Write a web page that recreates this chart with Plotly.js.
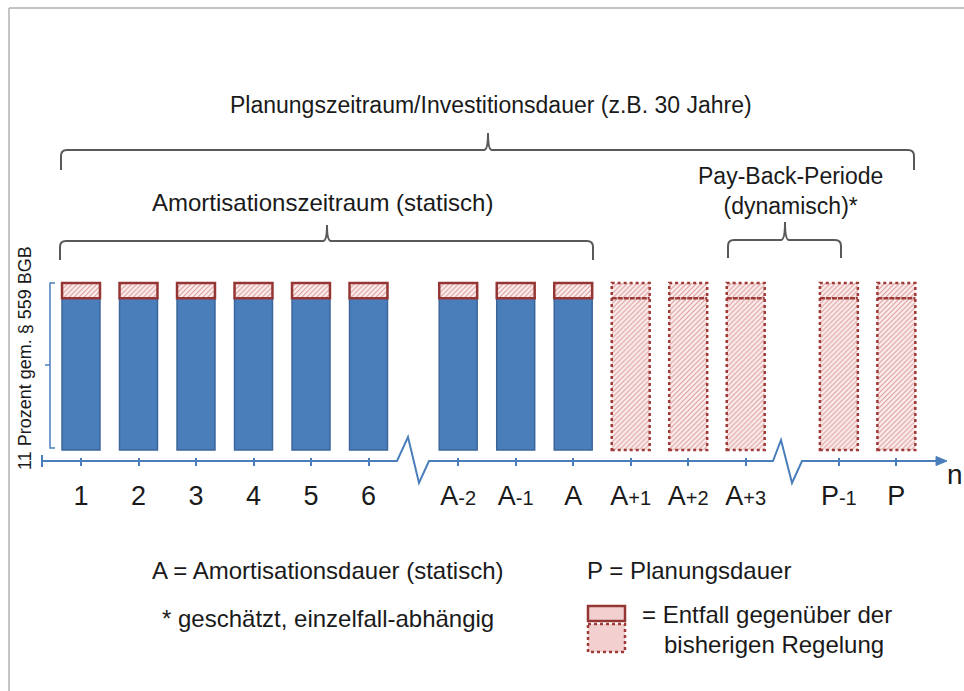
<!DOCTYPE html>
<html>
<head>
<meta charset="utf-8">
<script src="https://cdn.plot.ly/plotly-3.0.1.min.js"></script>
<style>html,body{margin:0;padding:0;background:#fff}#chart{width:964px;height:691px}</style>
</head>
<body>
<div id="chart"></div>
<script>
// ---- data ----
const labels = ['1','2','3','4','5','6','A-2','A-1','A','A+1','A+2','A+3','P-1','P'];
const segment = [0,0,0,0,0,0,1,1,1,1,1,1,2,2];          // axis segment (between breaks)
const remainingShare = [10,10,10,10,10,10,10,10,10,10,10,10,10,10]; // Prozent, verbleibend
const droppedShare   = [1,1,1,1,1,1,1,1,1,1,1,1,1,1];               // Prozent, Entfall
const afterAmortisation = [false,false,false,false,false,false,false,false,false,true,true,true,true,true];

// ---- layout helpers ----
const W = 964, H = 691, plotBottom = 457;
const breakGap = [0, 0.56, 1.18];
const pos = labels.map((l,i)=> i + 1 + breakGap[segment[i]]);
const pxPerUnit = 57.5;
const x0 = 1 - 81/pxPerUnit;
const x1 = x0 + W/pxPerUnit;
const kY = 167/11;
const y0 = -(plotBottom-450)/kY, y1 = 450/kY;
const px = v => v/W;
const py = v => (plotBottom - v)/plotBottom;
const barW = 0.66;

function fmtLabel(l){
  const m = l.match(/^([AP])([+-]\d)$/);
  if(m) return m[1] + '<span style="font-size:20px">' + m[2] + '</span>';
  return l;
}

const blue = '#4a7ebb', blueEdge = '#3b659a', red = '#963634';
const pat = {shape:'/', fgcolor:'#dc9a98', bgcolor:'#fbeeee', size:3.5, solidity:0.3};

const nA = afterAmortisation.map(a=>!a);
const traces = [
  {type:'bar', x:pos.filter((p,i)=>nA[i]), y:remainingShare.filter((v,i)=>nA[i]), base:0, width:barW,
   marker:{color:blue, line:{color:blueEdge, width:1.5}}, hoverinfo:'skip'},
  {type:'bar', x:pos.filter((p,i)=>nA[i]), y:droppedShare.filter((v,i)=>nA[i]), base:remainingShare.filter((v,i)=>nA[i]), width:barW,
   marker:{color:'#fbeeee', pattern:pat, line:{color:red, width:2.5}}, hoverinfo:'skip'},
  {type:'bar', x:pos.filter((p,i)=>afterAmortisation[i]), y:remainingShare.filter((v,i)=>afterAmortisation[i]), base:0, width:barW,
   marker:{color:'#fbeeee', pattern:pat, line:{width:0}}, hoverinfo:'skip'},
  {type:'bar', x:pos.filter((p,i)=>afterAmortisation[i]), y:droppedShare.filter((v,i)=>afterAmortisation[i]), base:remainingShare.filter((v,i)=>afterAmortisation[i]), width:barW,
   marker:{color:'#fbeeee', pattern:pat, line:{width:0}}, hoverinfo:'skip'}
];

const shapes = [];
// dotted outlines of dropped bars
pos.forEach((p,i)=>{
  if(!afterAmortisation[i]) return;
  const top = remainingShare[i] + droppedShare[i];
  shapes.push({type:'rect', xref:'x', yref:'y', x0:p-barW/2, x1:p+barW/2, y0:0, y1:top,
    line:{color:'#9e3a37', width:2.5, dash:'dot'}});
  shapes.push({type:'line', xref:'x', yref:'y', x0:p-barW/2, x1:p+barW/2, y0:remainingShare[i], y1:remainingShare[i],
    line:{color:'#9e3a37', width:2.5, dash:'5px,1px'}});
});

function P(pts){ return pts.map((q,i)=>(i?'L':'M')+px(q[0])+','+py(q[1])).join(' '); }
// axis line with breaks
shapes.push({type:'path', xref:'paper', yref:'paper', line:{color:blue, width:2},
  path: P([[42,461],[397,461],[408,437],[419,483],[429,461],[773,461],[781,440],[792,483],[802,461],[940,461]])});
shapes.push({type:'line', xref:'paper', yref:'paper', x0:px(42), x1:px(42), y0:py(455), y1:py(467), line:{color:blue, width:2}});
shapes.push({type:'path', xref:'paper', yref:'paper', fillcolor:blue, line:{color:blue, width:1},
  path: 'M'+px(947)+','+py(461)+' L'+px(936)+','+py(456.5)+' L'+px(936)+','+py(465.5)+' Z'});

// braces
function brace(xl, xr, xm, yl, ye, yt){
  const c = 6;
  return 'M'+px(xl)+','+py(ye)+' L'+px(xl)+','+py(yl+c)+' Q'+px(xl)+','+py(yl)+' '+px(xl+c)+','+py(yl)+
    ' L'+px(xm-4)+','+py(yl)+' Q'+px(xm)+','+py(yl)+' '+px(xm)+','+py(yt)+
    ' Q'+px(xm)+','+py(yl)+' '+px(xm+4)+','+py(yl)+
    ' L'+px(xr-c)+','+py(yl)+' Q'+px(xr)+','+py(yl)+' '+px(xr)+','+py(yl+c)+' L'+px(xr)+','+py(ye);
}
const braceLine = {color:'#595959', width:2};
shapes.push({type:'path', xref:'paper', yref:'paper', line:braceLine, path:brace(61,914,488,150,170,133)});
shapes.push({type:'path', xref:'paper', yref:'paper', line:braceLine, path:brace(60,593,327,241,260,225)});
shapes.push({type:'path', xref:'paper', yref:'paper', line:braceLine, path:brace(728,841,785,240,258,222)});

// y bracket (blue)
shapes.push({type:'path', xref:'paper', yref:'paper', line:{color:blue, width:1.5},
  path: P([[55,283],[50,283],[50,448],[55,448]])});
shapes.push({type:'line', xref:'paper', yref:'paper', x0:px(45), x1:px(50), y0:py(365), y1:py(365), line:{color:blue, width:1.5}});

// legend icons
shapes.push({type:'rect', xref:'paper', yref:'paper', x0:px(588), x1:px(625), y0:py(606), y1:py(621),
  fillcolor:'#f1d0cf', line:{color:red, width:2.5}});
shapes.push({type:'rect', xref:'paper', yref:'paper', x0:px(588), x1:px(625), y0:py(624), y1:py(652),
  fillcolor:'#f1d0cf', line:{color:'#9e3a37', width:2.5, dash:'dot'}});

// frame
shapes.push({type:'line', xref:'paper', yref:'paper', x0:px(9), x1:px(964), y0:py(8), y1:py(8), line:{color:'#b0b0b0', width:1.5}});
shapes.push({type:'line', xref:'paper', yref:'paper', x0:px(9), x1:px(9), y0:py(8), y1:py(691), line:{color:'#b0b0b0', width:1.5}});

const tc = '#1a1a1a';
function A(text, x, y, size, opts){
  return Object.assign({text, xref:'paper', yref:'paper', x:px(x), y:py(y), showarrow:false,
    xanchor:'center', yanchor:'middle', font:{size, color:tc}}, opts||{});
}
const annotations = [
  A('Planungszeitraum/Investitionsdauer (z.B. 30 Jahre)', 491, 105, 23),
  A('Amortisationszeitraum (statisch)', 322, 203, 24),
  A('Pay-Back-Periode<br>(dynamisch)*', 790, 191, 23),
  A('11 Prozent gem. § 559 BGB', 25, 358, 18, {textangle:-90}),
  A('n', 955, 474, 28),
  A('A = Amortisationsdauer (statisch)', 150, 570, 24, {xanchor:'left'}),
  A('P = Planungsdauer', 585, 570, 24, {xanchor:'left'}),
  A('* geschätzt, einzelfall-abhängig', 160, 618, 24, {xanchor:'left'}),
  A('= Entfall gegenüber der', 640, 614, 24, {xanchor:'left'}),
  A('bisherigen Regelung', 662, 644, 24, {xanchor:'left'})
];

const layout = {
  width:W, height:H, margin:{l:0, r:0, t:0, b:H-plotBottom, pad:0},
  paper_bgcolor:'#fff', plot_bgcolor:'#fff', showlegend:false, barmode:'overlay',
  font:{family:'Liberation Sans, Arial, sans-serif', color:tc},
  xaxis:{range:[x0,x1], tickmode:'array', tickvals:pos, ticktext:labels.map(fmtLabel),
    ticks:'outside', ticklen:8, tickwidth:2, tickcolor:blue, showline:false, showgrid:false, zeroline:false,
    tickfont:{size:27, color:tc}, ticklabelstandoff:7, fixedrange:true},
  yaxis:{range:[y0,y1], visible:false, fixedrange:true},
  shapes, annotations
};
Plotly.newPlot('chart', traces, layout, {displayModeBar:false, staticPlot:true});
</script>
</body>
</html>
